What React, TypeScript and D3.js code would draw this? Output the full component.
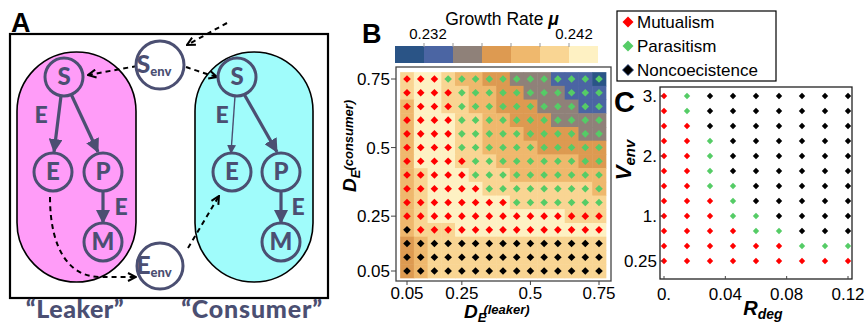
import React from 'react';
import * as d3 from 'd3';

// ---- panel B data: growth rate grid (rows: D_E consumer from 0.75 down to 0.05) ----
const dLeaker = [0.05, 0.1, 0.15, 0.2, 0.25, 0.3, 0.35, 0.4, 0.45, 0.5, 0.55, 0.6, 0.65, 0.7, 0.75];
const dConsumer = [0.75, 0.7, 0.65, 0.6, 0.55, 0.5, 0.45, 0.4, 0.35, 0.3, 0.25, 0.2, 0.15, 0.1, 0.05];
const xTicksB = [0.05, 0.25, 0.5, 0.75];
const yTicksB = [0.75, 0.5, 0.25, 0.05];

const growthRate = [
  [0.241, 0.243, 0.243, 0.241, 0.239, 0.239, 0.237, 0.237, 0.235, 0.235, 0.235, 0.233, 0.233, 0.233, 0.231],
  [0.241, 0.243, 0.243, 0.241, 0.241, 0.239, 0.239, 0.237, 0.237, 0.235, 0.235, 0.235, 0.233, 0.233, 0.233],
  [0.239, 0.243, 0.243, 0.241, 0.241, 0.239, 0.239, 0.237, 0.237, 0.237, 0.235, 0.235, 0.235, 0.233, 0.233],
  [0.239, 0.243, 0.243, 0.243, 0.241, 0.241, 0.239, 0.239, 0.237, 0.237, 0.237, 0.235, 0.235, 0.235, 0.235],
  [0.239, 0.243, 0.243, 0.243, 0.241, 0.241, 0.239, 0.239, 0.239, 0.237, 0.237, 0.237, 0.237, 0.235, 0.235],
  [0.239, 0.243, 0.243, 0.243, 0.241, 0.241, 0.239, 0.239, 0.239, 0.239, 0.237, 0.237, 0.237, 0.237, 0.237],
  [0.239, 0.243, 0.243, 0.243, 0.241, 0.241, 0.241, 0.239, 0.239, 0.239, 0.239, 0.239, 0.239, 0.237, 0.237],
  [0.239, 0.241, 0.243, 0.243, 0.243, 0.241, 0.241, 0.241, 0.239, 0.239, 0.239, 0.239, 0.239, 0.239, 0.239],
  [0.239, 0.241, 0.243, 0.243, 0.243, 0.243, 0.241, 0.241, 0.241, 0.241, 0.241, 0.241, 0.241, 0.241, 0.239],
  [0.239, 0.241, 0.243, 0.243, 0.243, 0.243, 0.243, 0.243, 0.241, 0.241, 0.241, 0.241, 0.241, 0.241, 0.241],
  [0.239, 0.241, 0.243, 0.243, 0.243, 0.243, 0.243, 0.243, 0.243, 0.243, 0.243, 0.243, 0.241, 0.241, 0.241],
  [0.239, 0.241, 0.241, 0.241, 0.243, 0.243, 0.243, 0.243, 0.243, 0.243, 0.243, 0.243, 0.243, 0.243, 0.243],
  [0.237, 0.239, 0.241, 0.241, 0.241, 0.241, 0.241, 0.241, 0.241, 0.241, 0.241, 0.241, 0.241, 0.241, 0.241],
  [0.237, 0.239, 0.241, 0.241, 0.241, 0.241, 0.241, 0.241, 0.241, 0.241, 0.241, 0.241, 0.241, 0.241, 0.241],
  [0.237, 0.239, 0.241, 0.241, 0.241, 0.241, 0.241, 0.241, 0.241, 0.241, 0.241, 0.241, 0.241, 0.241, 0.241],
];

// M = mutualism, P = parasitism, N = noncoecistence
const outcomeB = [
  'MMMPPPPPPPPPPPP',
  'MMMMPPPPPPPPPPP',
  'MMMMPPPPPPPPPPP',
  'MMMMPPPPPPPPPPP',
  'MMMMPPPPPPPPPPP',
  'MMMMPPPPPPPPPPP',
  'MMMMMPPPPPPPPPP',
  'MMMMMPPPPPPPPPP',
  'MMMMMMPPPPPPPPP',
  'MMMMMMMMPPPPPPP',
  'MMMMMMMMMMMMMMM',
  'NMMMMMMMMMMMMMM',
  'NNNNNNNNNNNNNNN',
  'NNNNNNNNNNNNNNN',
  'NNNNNNNNNNNNNNN',
];

const binEdges = [0.232, 0.234, 0.236, 0.238, 0.24, 0.242];
const binColors = ['#2a5486', '#4b65a3', '#8f8179', '#dd9a51', '#efb86d', '#f9d593', '#fef1c3'];

// ---- panel C data ----
const rDeg = [0, 0.015, 0.03, 0.045, 0.06, 0.075, 0.09, 0.105, 0.12];
const vEnv = [3, 2.75, 2.5, 2.25, 2, 1.75, 1.5, 1.25, 1, 0.75, 0.5, 0.25];
const xTicksC = [0, 0.04, 0.08, 0.12];
const xTickLabelsC = ['0.', '0.04', '0.08', '0.12'];
const yTicksC = [3, 2, 1, 0.25];
const yTickLabelsC = ['3.', '2.', '1.', '0.25'];
const outcomeC = [
  'MPNNNNNNN',
  'MPNNNNNNN',
  'MMNNNNNNN',
  'MMPNNNNNN',
  'MMPNNNNNN',
  'MMPNNNNNN',
  'MMPPNNNNN',
  'MMMPNNNNN',
  'MMMPPNNNN',
  'MMMMPPNNN',
  'MMMMMMPPP',
  'MMMMMMMMM',
];

const legendItems = [
  { key: 'M', label: 'Mutualism' },
  { key: 'P', label: 'Parasitism' },
  { key: 'N', label: 'Noncoecistence' },
];
const dotColor: Record<string, string> = { M: '#ff0000', P: '#55cc66', N: '#000000' };

const SANS = '"Liberation Sans", Arial, sans-serif';
const ROUND = 'Lato, "Open Sans", sans-serif';
const SLATE = '#4b4f72';

const diamond = (s: number) => `M0,${-s}L${s},0L0,${s}L${-s},0Z`;

// ---- panel A: schematic ----
const PanelA = () => {
  const node = (x: number, y: number, t: string, r = 19, sub?: string) => (
    <g key={t + x + y}>
      <circle cx={x} cy={y} r={r} fill="none" stroke={SLATE} strokeWidth={3} />
      <text x={sub ? x - 6 : x} y={y + 8} textAnchor="middle" fontFamily={ROUND} fontWeight={900}
        fontSize={sub ? 25 : 24} fill={SLATE}>
        {t}
        {sub && <tspan fontSize={13} dy={3}>{sub}</tspan>}
      </text>
    </g>
  );
  const solid = (x1: number, y1: number, x2: number, y2: number, w = 3.2, m = 'url(#headBig)') => (
    <line x1={x1} y1={y1} x2={x2} y2={y2} stroke={SLATE} strokeWidth={w} markerEnd={m} />
  );
  const lbl = (x: number, y: number) => (
    <text x={x} y={y} textAnchor="middle" fontFamily={ROUND} fontWeight={900} fontSize={23} fill={SLATE}>E</text>
  );
  const dash = (d: string) => (
    <path d={d} fill="none" stroke="#000" strokeWidth={2} strokeDasharray="5,4" markerEnd="url(#chev)" />
  );
  return (
    <g>
      <defs>
        <marker id="headBig" markerUnits="userSpaceOnUse" viewBox="0 0 14 14" refX={13} refY={7}
          markerWidth={14} markerHeight={14} orient="auto">
          <path d="M0,0L14,7L0,14Z" fill={SLATE} />
        </marker>
        <marker id="headSmall" markerUnits="userSpaceOnUse" viewBox="0 0 10 10" refX={9} refY={5}
          markerWidth={9} markerHeight={9} orient="auto">
          <path d="M0,0L10,5L0,10Z" fill={SLATE} />
        </marker>
        <marker id="chev" markerUnits="userSpaceOnUse" viewBox="0 0 10 10" refX={9} refY={5}
          markerWidth={10} markerHeight={10} orient="auto">
          <path d="M1,1L9,5L1,9" fill="none" stroke="#000" strokeWidth={2} />
        </marker>
      </defs>
      <text x={11} y={32} fontFamily={SANS} fontWeight={700} fontSize={27}>A</text>
      <rect x={10} y={34} width={318} height={264} fill="#fff" stroke="#000" strokeWidth={2.2} />
      <rect x={17} y={52} width={119} height={230} rx={59.5} fill="#ff9cf8" stroke="#000" strokeWidth={1.6} />
      <rect x={195} y={52} width={118} height={230} rx={59} fill="#a0fcfb" stroke="#000" strokeWidth={1.6} />

      {solid(61, 96, 54, 152)}
      {solid(71, 94, 98, 152)}
      {solid(103, 191, 103, 223)}
      {solid(235, 96, 231, 153, 1.4, 'url(#headSmall)')}
      {solid(244, 94, 277, 152)}
      {solid(281, 191, 281, 223)}
      {lbl(41, 123)}
      {lbl(121, 215)}
      {lbl(222, 123)}
      {lbl(298, 215)}

      {dash('M227,23L187,45')}
      {dash('M137,66L88,75')}
      {dash('M186,67Q200,72 217,77')}
      {dash('M50,197C50,250 70,277 100,277L136,277')}
      {dash('M188,248L219,196')}

      {node(64, 77, 'S')}
      {node(53, 172, 'E')}
      {node(103, 172, 'P')}
      {node(103, 242, 'M')}
      {node(237, 77, 'S')}
      {node(232, 172, 'E')}
      {node(281, 172, 'P')}
      {node(281, 242, 'M')}
      {node(160, 65, 'S', 24, 'env')}
      {node(160, 266, 'E', 23, 'env')}

      <text x={75} y={318} textAnchor="middle" fontFamily={ROUND} fontWeight={900} fontSize={25}
        letterSpacing={0.5} fill={SLATE}>“Leaker”</text>
      <text x={252} y={318} textAnchor="middle" fontFamily={ROUND} fontWeight={900} fontSize={25}
        letterSpacing={0.8} fill={SLATE}>“Consumer”</text>
    </g>
  );
};

// ---- panel B: heatmap ----
const PanelB = () => {
  const x = d3.scaleLinear().domain([0.05, 0.75]).range([407, 599]);
  const y = d3.scaleLinear().domain([0.05, 0.75]).range([271, 79]);
  const half = (x(0.1) - x(0.05)) / 2;
  const color = d3.scaleThreshold<number, string>().domain(binEdges).range(binColors);
  const bar = d3.scaleBand<number>().domain(d3.range(binColors.length)).range([395, 598]);
  const frame = { x0: 396, x1: 611, y0: 67, y1: 281 };
  return (
    <g>
      <text x={362} y={43} fontFamily={SANS} fontWeight={700} fontSize={27}>B</text>
      <text x={502} y={25} textAnchor="middle" fontFamily={SANS} fontSize={17.5}>
        Growth Rate <tspan fontWeight={700} fontStyle="italic">μ</tspan>
      </text>
      {binColors.map((c, i) => (
        <rect key={i} x={bar(i)} y={46} width={bar.bandwidth()} height={17} fill={c} />
      ))}
      {binEdges.map((e, i) => (
        <line key={e} x1={bar(i + 1)} x2={bar(i + 1)} y1={43} y2={47} stroke="#999" strokeWidth={1} />
      ))}
      <text x={(bar(1) as number) + 4} y={39} textAnchor="middle" fontFamily={SANS} fontSize={15}>0.232</text>
      <text x={(bar(6) as number) + 5} y={39} textAnchor="middle" fontFamily={SANS} fontSize={15}>0.242</text>

      <rect x={frame.x0} y={frame.y0} width={frame.x1 - frame.x0} height={frame.y1 - frame.y0}
        fill="#fff" stroke="#444" strokeWidth={1.3} />
      {growthRate.map((row, r) =>
        row.map((g, c) => (
          <rect key={`${r}-${c}`} x={x(dLeaker[c]) - half} y={y(dConsumer[r]) - half}
            width={half * 2 + 0.5} height={half * 2 + 0.5} fill={color(g)} />
        ))
      )}
      {outcomeB.map((row, r) =>
        row.split('').map((o, c) => (
          <path key={`d${r}-${c}`} d={diamond(3.8)} transform={`translate(${x(dLeaker[c])},${y(dConsumer[r])})`}
            fill={dotColor[o]} />
        ))
      )}
      {xTicksB.map(t => (
        <g key={t}>
          <line x1={x(t)} x2={x(t)} y1={frame.y1} y2={frame.y1 + 4} stroke="#444" />
          <text x={x(t)} y={299} textAnchor="middle" fontFamily={SANS} fontSize={17}>{t}</text>
        </g>
      ))}
      {yTicksB.map(t => (
        <g key={t}>
          <line x1={frame.x0 - 5} x2={frame.x0} y1={y(t)} y2={y(t)} stroke="#444" />
          <text x={390} y={y(t) + 6} textAnchor="end" fontFamily={SANS} fontSize={17}>{t}</text>
        </g>
      ))}
      <text x={464} y={318} fontFamily={SANS} fontWeight={700} fontStyle="italic" fontSize={19}>
        D<tspan fontSize={13} dy={4}>E</tspan><tspan fontSize={13} dx={-3} dy={-8}>(leaker)</tspan>
      </text>
      <text transform="translate(356,192) rotate(-90)" fontFamily={SANS} fontWeight={700}
        fontStyle="italic" fontSize={19}>
        D<tspan fontSize={13} dy={4}>E</tspan><tspan fontSize={13} dx={-1} dy={-7}>(consumer)</tspan>
      </text>
    </g>
  );
};

// ---- panel C: outcome grid ----
const PanelC = () => {
  const x = d3.scaleLinear().domain([0, 0.12]).range([664, 848]);
  const y = d3.scaleLinear().domain([0.25, 3]).range([261, 96]);
  const frame = { x0: 660, x1: 852, y0: 87, y1: 279 };
  return (
    <g>
      <rect x={617} y={11} width={159} height={70} fill="#fff" stroke="#000" strokeWidth={1.2} />
      {legendItems.map((it, i) => (
        <g key={it.key}>
          <path d={diamond(5.5)} transform={`translate(628,${22 + i * 24})`} fill={dotColor[it.key]}
            stroke={it.key === 'N' ? '#1d3d7a' : 'none'} strokeWidth={0.8} />
          <text x={637} y={28 + i * 24} fontFamily={SANS} fontSize={17}>{it.label}</text>
        </g>
      ))}
      <text x={614} y={112} fontFamily={SANS} fontWeight={700} fontSize={29}>C</text>
      <rect x={frame.x0} y={frame.y0} width={frame.x1 - frame.x0} height={frame.y1 - frame.y0}
        fill="#fff" stroke="#222" strokeWidth={1.3} />
      {outcomeC.map((row, r) =>
        row.split('').map((o, c) => (
          <path key={`${r}-${c}`} d={diamond(3.2)} transform={`translate(${x(rDeg[c])},${y(vEnv[r])})`}
            fill={dotColor[o]} />
        ))
      )}
      {xTicksC.map((t, i) => (
        <g key={t}>
          <line x1={x(t)} x2={x(t)} y1={frame.y1} y2={frame.y1 - 3} stroke="#444" />
          <text x={x(t)} y={300} textAnchor="middle" fontFamily={SANS} fontSize={17}>{xTickLabelsC[i]}</text>
        </g>
      ))}
      {yTicksC.map((t, i) => (
        <g key={t}>
          <line x1={frame.x0} x2={frame.x0 + 3} y1={y(t)} y2={y(t)} stroke="#444" />
          <text x={657} y={y(t) + 6} textAnchor="end" fontFamily={SANS} fontSize={17}>{yTickLabelsC[i]}</text>
        </g>
      ))}
      <text x={763} y={315} textAnchor="middle" fontFamily={SANS} fontWeight={700} fontStyle="italic" fontSize={20}>
        R<tspan fontSize={14} dy={4}>deg</tspan>
      </text>
      <text transform="translate(631,160) rotate(-90)" textAnchor="middle" fontFamily={SANS} fontWeight={700}
        fontStyle="italic" fontSize={22}>
        V<tspan fontSize={15} dy={4}>env</tspan>
      </text>
    </g>
  );
};

export default function App() {
  return (
    <svg width={868} height={324} style={{ position: 'absolute', left: 0, top: 0, background: '#fff' }}>
      <PanelA />
      <PanelB />
      <PanelC />
    </svg>
  );
}
